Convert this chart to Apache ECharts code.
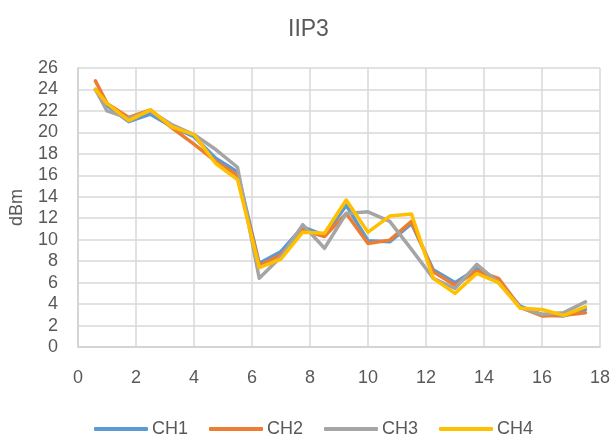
<!DOCTYPE html>
<html>
<head>
<meta charset="utf-8">
<script src="https://cdn.jsdelivr.net/npm/echarts@6/dist/echarts.min.js"></script>
<style>html,body{margin:0;padding:0;background:#fff;}#c{width:613px;height:435px;}</style>
</head>
<body>
<div id="c"></div>
<script>
var xValues = [0.6, 1.0, 1.75, 2.5, 3.25, 4.0, 4.75, 5.5, 6.25, 7.0, 7.75, 8.5, 9.25, 10, 10.75, 11.5, 12.25, 13, 13.75, 14.5, 15.25, 16, 16.75, 17.5];
var ch1 = [24.0, 22.5, 21.0, 21.7, 20.5, 19.6, 17.6, 16.3, 7.8, 8.9, 11.2, 10.4, 13.2, 9.9, 9.8, 11.5, 7.2, 6.0, 7.3, 6.0, 3.8, 3.0, 2.9, 3.5];
var ch2 = [24.8, 22.7, 21.4, 22.1, 20.4, 18.9, 17.3, 16.0, 7.6, 8.6, 10.9, 10.3, 12.45, 9.65, 9.96, 11.7, 7.0, 5.75, 7.1, 6.4, 3.7, 2.9, 2.95, 3.2];
var ch3 = [24.0, 22.0, 21.3, 22.0, 20.7, 19.8, 18.4, 16.75, 6.4, 8.4, 11.4, 9.2, 12.45, 12.6, 11.7, 9.1, 6.4, 5.45, 7.7, 6.0, 3.7, 3.05, 3.2, 4.2];
var ch4 = [24.0, 22.7, 21.1, 22.1, 20.5, 19.8, 17.1, 15.6, 7.4, 8.2, 10.7, 10.6, 13.7, 10.7, 12.2, 12.4, 6.4, 5.0, 6.85, 6.0, 3.6, 3.5, 2.95, 3.75];
var seriesNames = ['CH1', 'CH2', 'CH3', 'CH4'];
var colors = ['#5B9BD5', '#ED7D31', '#A5A5A5', '#FFC000'];
var titleText = 'IIP3';
var yName = 'dBm';

var allValues = [ch1, ch2, ch3, ch4];
var FONT = '"Liberation Sans", Arial, sans-serif';
var TXT = '#595959';

function pairs(vals) {
  return xValues.map(function (x, i) { return [x, vals[i]]; });
}

var chart = echarts.init(document.getElementById('c'), null, {renderer: 'canvas'});
chart.setOption({
  animation: false,
  backgroundColor: '#ffffff',
  title: {
    text: titleText,
    left: 283,
    top: 13,
    textStyle: {fontFamily: FONT, fontSize: 23, fontWeight: 'normal', color: TXT}
  },
  legend: {
    left: 89,
    top: 415,
    itemWidth: 54,
    itemHeight: 4,
    itemGap: 21,
    icon: 'roundRect',
    textStyle: {fontFamily: FONT, fontSize: 18, color: TXT, padding: [0, 0, 0, -1]},
    data: seriesNames
  },
  grid: {left: 77, right: 13, top: 68, bottom: 88, containLabel: false},
  xAxis: {
    type: 'value',
    min: 0, max: 18, interval: 2,
    axisLine: {show: true, lineStyle: {color: '#d0d0d0', width: 1.5}},
    axisTick: {show: false},
    axisLabel: {fontFamily: FONT, fontSize: 18, color: TXT, margin: 22},
    splitLine: {show: true, lineStyle: {color: '#d9d9d9', width: 1.5}}
  },
  yAxis: {
    type: 'value',
    min: 0, max: 26, interval: 2,
    name: yName,
    nameLocation: 'middle',
    nameGap: 52,
    nameRotate: 90,
    nameTextStyle: {fontFamily: FONT, fontSize: 18, color: TXT},
    axisLine: {show: true, lineStyle: {color: '#d0d0d0', width: 1.5}},
    axisTick: {show: false},
    axisLabel: {fontFamily: FONT, fontSize: 18, color: TXT, margin: 20},
    splitLine: {show: true, lineStyle: {color: '#d9d9d9', width: 1.5}}
  },
  series: seriesNames.map(function (n, i) {
    return {
      name: n,
      type: 'line',
      data: pairs(allValues[i]),
      symbol: 'none',
      showSymbol: false,
      lineStyle: {color: colors[i], width: 3.5, cap: 'round', join: 'round'},
      itemStyle: {color: colors[i]},
      z: 2 + i
    };
  })
});
</script>
</body>
</html>
